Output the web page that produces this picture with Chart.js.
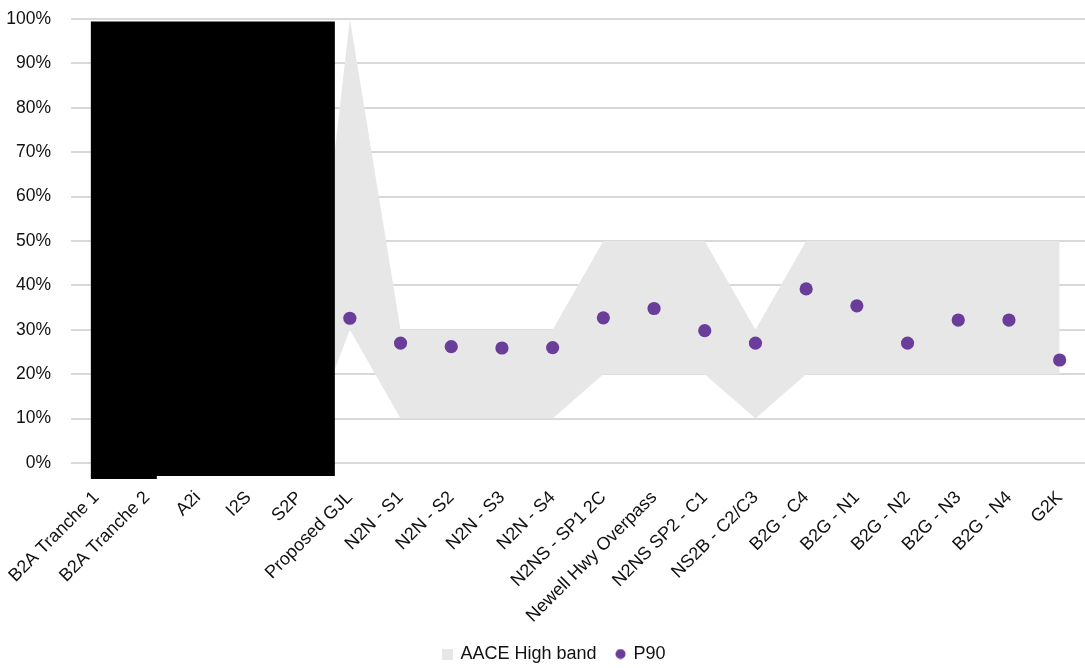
<!DOCTYPE html>
<html>
<head>
<meta charset="utf-8">
<script src="https://cdn.jsdelivr.net/npm/chart.js@4.4.1/dist/chart.umd.min.js"></script>
<style>
  html, body { margin: 0; padding: 0; background: #ffffff; }
  #wrap { width: 1085px; height: 668px; }
</style>
</head>
<body>
<div id="wrap"><canvas id="chart" width="1085" height="668"></canvas></div>
<script>
// Project packages along the x axis
const categories = [
  'B2A Tranche 1', 'B2A Tranche 2', 'A2i', 'I2S', 'S2P', 'Proposed GJL',
  'N2N - S1', 'N2N - S2', 'N2N - S3', 'N2N - S4', 'N2NS - SP1 2C',
  'Newell Hwy Overpass', 'N2NS SP2 - C1', 'NS2B - C2/C3', 'B2G - C4',
  'B2G - N1', 'B2G - N2', 'B2G - N3', 'B2G - N4', 'G2K'
];
// AACE high accuracy band, lower and upper bound (%)
const bandLow  = [0, 0, 0, 0, 0, 30, 10, 10, 10, 10, 20, 20, 20, 10, 20, 20, 20, 20, 20, 20];
const bandHigh = [0, 0, 0, 0, 0, 100, 30, 30, 30, 30, 50, 50, 50, 30, 50, 50, 50, 50, 50, 50];
// P90 contingency (%)
const p90 = [null, null, null, null, null, 32.6, 27.0, 26.2, 25.9, 26.0, 32.7, 34.8, 29.8, 27.0, 39.2, 35.4, 27.0, 32.2, 32.2, 23.2];
// Value axis ticks (%)
const yTicks = [0, 10, 20, 30, 40, 50, 60, 70, 80, 90, 100];
// Packages withheld from publication (first..last index)
const redacted = [0, 4];

const FONT = "'Liberation Sans', Arial, sans-serif";
const BAND = '#e7e7e7';
const PURPLE = '#6a3d9a';

// Small legend markers
function marker(kind) {
  const c = document.createElement('canvas');
  c.width = 11; c.height = 11;
  const g = c.getContext('2d');
  if (kind === 'rect') {
    g.fillStyle = BAND; g.fillRect(0, 0, 11, 11);
  } else {
    g.fillStyle = PURPLE; g.beginPath(); g.arc(5.5, 5.5, 5, 0, Math.PI * 2); g.fill();
  }
  return c;
}
const legendMarks = { 1: marker('rect'), 2: marker('circle') };

// Black box over the withheld packages
const redactionBox = {
  id: 'redactionBox',
  afterDatasetsDraw(chart) {
    const x = chart.scales.x, y = chart.scales.y, ctx = chart.ctx;
    const left = x.getPixelForValue(redacted[0]) - 5.5;
    const right = x.getPixelForValue(redacted[1] + 1) - 15;
    const top = y.getPixelForValue(100) + 2.5;
    const bottom = y.getPixelForValue(0) + 13;
    ctx.save();
    ctx.fillStyle = '#000000';
    ctx.fillRect(left, top, right - left, bottom - top);
    ctx.fillRect(left, bottom - 1, 66, 4);
    ctx.restore();
  }
};

// Nudge the legend row slightly to the right
const legendShift = {
  id: 'legendShift',
  afterLayout(chart) {
    if (chart.legend) { chart.legend.left += 12; chart.legend.right += 12; }
  }
};

new Chart(document.getElementById('chart'), {
  type: 'line',
  data: {
    labels: categories,
    datasets: [
      {
        label: 'low',
        data: bandLow,
        borderWidth: 0,
        borderColor: 'rgba(0,0,0,0)',
        pointRadius: 0,
        fill: false,
        tension: 0,
        order: 3
      },
      {
        label: 'AACE High band',
        data: bandHigh,
        borderWidth: 0,
        borderColor: 'rgba(0,0,0,0)',
        backgroundColor: BAND,
        pointRadius: 0,
        fill: '-1',
        tension: 0,
        order: 2
      },
      {
        label: 'P90',
        data: p90,
        showLine: false,
        pointRadius: 6.6,
        pointHoverRadius: 6.6,
        pointBackgroundColor: PURPLE,
        pointBorderWidth: 0,
        borderColor: PURPLE,
        backgroundColor: PURPLE,
        order: 1
      }
    ]
  },
  options: {
    responsive: false,
    animation: false,
    layout: { autoPadding: false, padding: { top: 19, right: 0, left: 0, bottom: -5 } },
    scales: {
      x: {
        offset: true,
        grid: { display: false },
        border: { display: false },
        afterFit(scale) {
          scale.height = 162;
          scale.paddingLeft = 0;
          scale.paddingRight = 0;
        },
        ticks: {
          autoSkip: false,
          minRotation: 45,
          maxRotation: 45,
          padding: 16,
          color: '#111111',
          font: { family: FONT, size: 18 }
        }
      },
      y: {
        min: 0,
        max: 100,
        afterBuildTicks(scale) { scale.ticks = yTicks.map(v => ({ value: v })); },
        afterFit(scale) {
          scale.width = 71;
          scale.paddingTop = 0;
          scale.paddingBottom = 0;
        },
        grid: { color: '#d9d9d9', lineWidth: 2, drawTicks: false },
        border: { display: false },
        ticks: {
          padding: 20,
          color: '#111111',
          font: { family: FONT, size: 17.5 },
          callback: v => v + '%'
        }
      }
    },
    plugins: {
      legend: {
        position: 'bottom',
        labels: {
          usePointStyle: true,
          boxWidth: 8,
          boxHeight: 11,
          padding: 20,
          color: '#111111',
          font: { family: FONT, size: 18 },
          sort: (a, b) => a.datasetIndex - b.datasetIndex,
          generateLabels(chart) {
            return Chart.defaults.plugins.legend.labels.generateLabels(chart)
              .filter(item => item.datasetIndex !== 0)
              .map(item => Object.assign(item, { pointStyle: legendMarks[item.datasetIndex] }));
          }
        }
      },
      tooltip: { enabled: false }
    }
  },
  plugins: [redactionBox, legendShift]
});
</script>
</body>
</html>
